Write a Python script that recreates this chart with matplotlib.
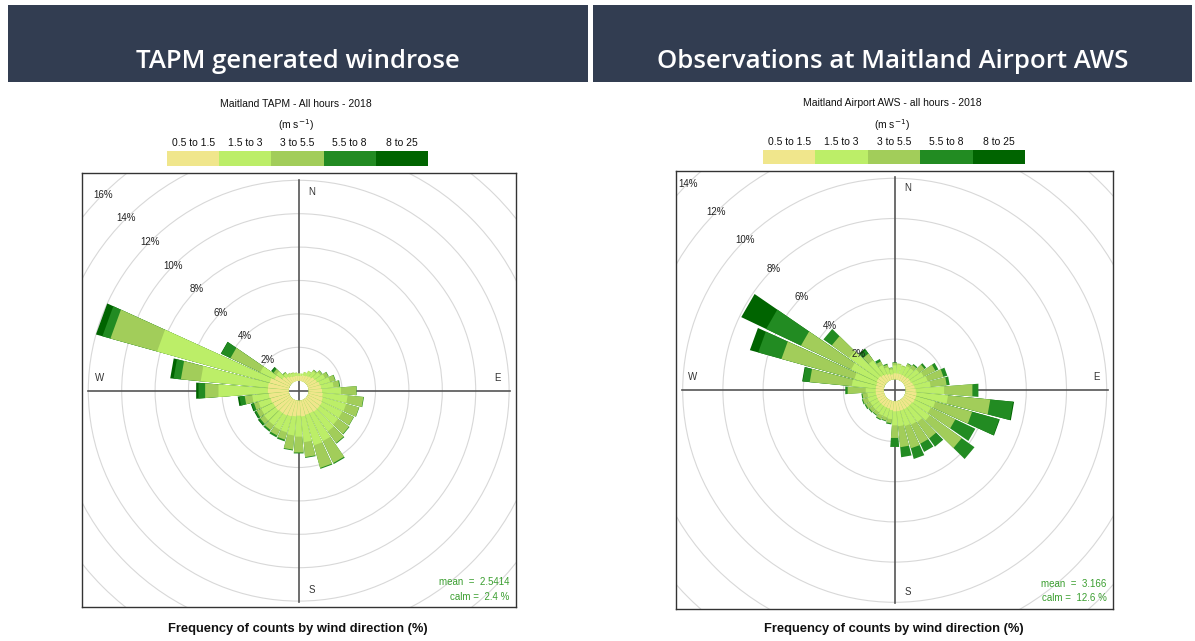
import numpy as np
import matplotlib.pyplot as plt
from matplotlib.patches import Polygon, Circle, Rectangle

plt.rcParams['font.family'] = ['Liberation Sans', 'DejaVu Sans']

W, H = 1195, 641

# wind direction sectors (deg, blowing from)
dirs = np.arange(10, 361, 10)
speed_labels = ['0.5 to 1.5', '1.5 to 3', '3 to 5.5', '5.5 to 8', '8 to 25']
speed_cols = ['#f0e68c', '#bcee68', '#a2cd5a', '#228b22', '#006400']

# TAPM, % of hours per sector and speed band (10..360 deg)
tapm_0515 = [0.30, 0.35, 0.40, 0.45, 0.55, 0.60, 0.70, 0.75, 0.80, 0.85, 0.90, 0.95,
             0.95, 0.95, 0.90, 0.90, 0.95, 0.90, 0.95, 1.00, 1.05, 1.05, 1.10, 1.10,
             1.15, 1.20, 1.25, 1.25, 1.20, 1.00, 0.60, 0.45, 0.35, 0.30, 0.30, 0.28]
tapm_153 = [0.15, 0.20, 0.30, 0.40, 0.45, 0.55, 0.65, 0.75, 1.14, 1.50, 1.45, 1.35,
            1.35, 1.45, 1.85, 1.90, 1.55, 1.26, 1.15, 1.00, 0.95, 0.90, 0.85, 0.80,
            0.75, 1.00, 2.97, 4.05, 7.00, 0.96, 0.45, 0.25, 0.20, 0.20, 0.17, 0.15]
tapm_355 = [0.00, 0.02, 0.03, 0.08, 0.13, 0.22, 0.32, 0.35, 0.92, 0.95, 0.80, 0.75,
            0.80, 0.85, 1.45, 1.40, 0.90, 0.95, 0.85, 0.45, 0.38, 0.35, 0.30, 0.30,
            0.28, 0.45, 0.80, 1.19, 2.90, 1.97, 0.20, 0.05, 0.05, 0.05, 0.03, 0.02]
tapm_558 = [0.00, 0.00, 0.00, 0.02, 0.02, 0.03, 0.03, 0.05, 0.02, 0.03, 0.02, 0.02,
            0.04, 0.05, 0.07, 0.06, 0.05, 0.06, 0.05, 0.10, 0.12, 0.12, 0.10, 0.10,
            0.15, 0.32, 0.40, 0.44, 0.50, 0.62, 0.13, 0.03, 0.00, 0.00, 0.00, 0.00]
tapm_825 = [0.00, 0.00, 0.00, 0.00, 0.00, 0.00, 0.00, 0.00, 0.00, 0.00, 0.00, 0.00,
            0.00, 0.00, 0.00, 0.00, 0.00, 0.00, 0.00, 0.00, 0.00, 0.00, 0.05, 0.05,
            0.05, 0.10, 0.14, 0.20, 0.40, 0.02, 0.05, 0.00, 0.00, 0.00, 0.00, 0.00]

# Maitland Airport AWS observations
aws_0515 = [0.30, 0.30, 0.30, 0.30, 0.35, 0.35, 0.40, 0.45, 0.50, 0.55, 0.55, 0.55,
            0.50, 0.50, 0.50, 0.50, 0.50, 0.50, 0.45, 0.40, 0.40, 0.40, 0.40, 0.40,
            0.40, 0.40, 0.40, 0.40, 0.40, 0.45, 0.45, 0.40, 0.35, 0.30, 0.25, 0.30]
aws_153 = [0.45, 0.40, 0.50, 0.50, 0.60, 0.70, 0.75, 0.80, 1.42, 1.57, 1.00, 0.90,
           1.10, 0.90, 0.85, 0.80, 0.75, 0.70, 0.45, 0.45, 0.45, 0.40, 0.40, 0.40,
           0.45, 0.42, 0.50, 1.20, 1.14, 1.41, 1.79, 0.90, 0.50, 0.35, 0.25, 0.40]
aws_355 = [0.05, 0.05, 0.12, 0.20, 0.33, 0.65, 0.82, 0.80, 1.41, 2.11, 1.90, 1.35,
           1.95, 1.00, 1.05, 1.15, 1.05, 0.63, 0.20, 0.17, 0.20, 0.17, 0.20, 0.25,
           0.25, 0.25, 0.90, 2.10, 3.76, 2.76, 1.06, 0.40, 0.20, 0.13, 0.08, 0.12]
aws_558 = [0.00, 0.00, 0.03, 0.06, 0.10, 0.16, 0.20, 0.15, 0.30, 1.14, 1.40, 1.10,
           0.78, 0.50, 0.45, 0.55, 0.50, 0.45, 0.06, 0.04, 0.05, 0.04, 0.05, 0.06,
           0.05, 0.05, 0.12, 0.35, 1.20, 1.92, 0.51, 0.22, 0.13, 0.05, 0.02, 0.03]
aws_825 = [0.00, 0.00, 0.00, 0.00, 0.00, 0.00, 0.00, 0.00, 0.00, 0.05, 0.03, 0.00,
           0.00, 0.00, 0.00, 0.00, 0.00, 0.00, 0.00, 0.00, 0.00, 0.00, 0.00, 0.00,
           0.00, 0.00, 0.00, 0.03, 0.43, 1.37, 0.00, 0.08, 0.00, 0.00, 0.00, 0.00]

tapm_bands = [tapm_0515, tapm_153, tapm_355, tapm_558, tapm_825]
aws_bands = [aws_0515, aws_153, aws_355, aws_558, aws_825]


def fx(x):
    return x / W


def fy(y):
    return 1 - y / H


def windrose(ax, bands, offset, ring_max, line_len, lab_r, lab_off, stats):
    # stacked sector bars: draw cumulative totals from the outside band inwards,
    # each one starting at the offset hole, so the bands never show seams
    cum = np.cumsum(np.asarray(bands, dtype=float), axis=0)
    hw = 4.5
    for k in range(len(bands) - 1, -1, -1):
        col = speed_cols[k]
        for d, top, v in zip(dirs, cum[k], bands[k]):
            if v <= 0:
                continue
            r0, r1 = offset, offset + top
            a0, a1 = np.radians(d - hw), np.radians(d + hw)
            pts = [(r0 * np.sin(a0), r0 * np.cos(a0)), (r1 * np.sin(a0), r1 * np.cos(a0)),
                   (r1 * np.sin(a1), r1 * np.cos(a1)), (r0 * np.sin(a1), r0 * np.cos(a1))]
            ax.add_patch(Polygon(pts, closed=True, fc=col, ec='none', zorder=3))

    # grid rings + labels along NW
    for v in range(2, ring_max + 1, 2):
        r = offset + v
        ax.add_patch(Circle((0, 0), r, fill=False, ec='#d8d8d8', lw=0.8, zorder=1))
        ax.text(-r * 0.7071, r * 0.7071, f'{v}%', ha='center', va='center',
                fontsize=7, color='#222222', zorder=5)

    ax.plot([-line_len, line_len], [0, 0], color='#555555', lw=1.2, zorder=2)
    ax.plot([0, 0], [-line_len, line_len], color='#555555', lw=1.2, zorder=2)

    for lab, x, y in [('N', lab_off, lab_r), ('S', lab_off, -lab_r),
                      ('W', -lab_r, lab_off), ('E', lab_r, lab_off)]:
        ax.text(x, y, lab, ha='center', va='center', fontsize=7, color='#333333', zorder=5)

    ax.text(0.985, 0.058, stats[0], transform=ax.transAxes, ha='right', va='center',
            fontsize=7, color='#3a9e2f')
    ax.text(0.985, 0.024, stats[1], transform=ax.transAxes, ha='right', va='center',
            fontsize=7, color='#3a9e2f')

    ax.set_xticks([])
    ax.set_yticks([])
    for s in ax.spines.values():
        s.set_color('#333333')
        s.set_linewidth(1.0)


def speed_key(fig, x0, x1, y0, y1):
    kax = fig.add_axes([fx(x0), fy(y1), fx(x1) - fx(x0), (y1 - y0) / H])
    for i, (lab, col) in enumerate(zip(speed_labels, speed_cols)):
        kax.add_patch(Rectangle((i, 0), 1, 1, fc=col, ec='none'))
        kax.text(i + 0.5, 1.55, lab, ha='center', va='center', fontsize=7.5, color='#111111')
    kax.set_xlim(0, len(speed_labels))
    kax.set_ylim(0, 1)
    kax.axis('off')


fig = plt.figure(figsize=(W / 100, H / 100), dpi=100)

# header banners
for x0, x1, txt in [(8, 588, 'TAPM generated windrose'),
                    (593, 1192, 'Observations at Maitland Airport AWS')]:
    fig.add_artist(Rectangle((fx(x0), fy(82)), (x1 - x0) / W, 77 / H,
                             transform=fig.transFigure, fc='#323d51', ec='none'))
    fig.text(fx((x0 + x1) / 2), fy(61), txt, ha='center', va='center', color='white',
             fontsize=18.5, fontweight='semibold', family=['Open Sans', 'DejaVu Sans'])

# left panel: TAPM
fig.text(fx(296), fy(104), 'Maitland TAPM - All hours - 2018', ha='center', va='center',
         fontsize=7.5, color='#111111')
fig.text(fx(296), fy(125), '(m s$^{-1}$)', ha='center', va='center', fontsize=7.5, color='#111111')
speed_key(fig, 167, 428, 151, 166)

s1 = 16.7
axL = fig.add_axes([fx(82), fy(607), 434 / W, 434 / H])
axL.set_xlim(-216.7 / s1, 217.3 / s1)
axL.set_ylim(-216.3 / s1, 217.7 / s1)
windrose(axL, tapm_bands, 10 / s1, 16, 211 / s1, 199 / s1, 13 / s1,
         ['mean  =  2.5414', 'calm =  2.4 %'])
fig.text(fx(298), fy(629), 'Frequency of counts by wind direction (%)', ha='center',
         va='center', fontsize=9.3, fontweight='bold', color='#111111')

# right panel: AWS
fig.text(fx(892), fy(103), 'Maitland Airport AWS - all hours - 2018', ha='center', va='center',
         fontsize=7.5, color='#111111')
fig.text(fx(892), fy(125), '(m s$^{-1}$)', ha='center', va='center', fontsize=7.5, color='#111111')
speed_key(fig, 763, 1025, 150, 164)

s2 = 20.1
axR = fig.add_axes([fx(676), fy(609), 437 / W, 438 / H])
axR.set_xlim(-218.7 / s2, 218.3 / s2)
axR.set_ylim(-218.7 / s2, 219.3 / s2)
windrose(axR, aws_bands, 11 / s2, 14, 213 / s2, 202 / s2, 13 / s2,
         ['mean  =  3.166', 'calm =  12.6 %'])
fig.text(fx(894), fy(629), 'Frequency of counts by wind direction (%)', ha='center',
         va='center', fontsize=9.3, fontweight='bold', color='#111111')

fig.savefig('out.png', dpi=100)
